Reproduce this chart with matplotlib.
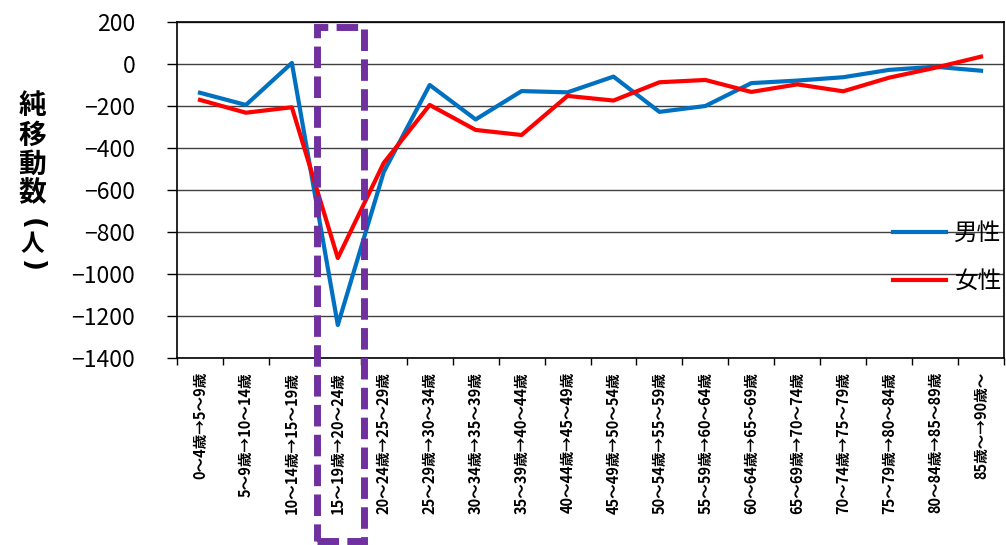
import matplotlib.pyplot as plt
from matplotlib.patches import Rectangle
import numpy as np

plt.rcParams['font.family'] = ['Noto Sans CJK JP', 'DejaVu Sans']

# age cohort transitions (5-year groups)
cohorts = [
    '0～4歳→5～9歳', '5～9歳→10～14歳', '10～14歳→15～19歳',
    '15～19歳→20～24歳', '20～24歳→25～29歳', '25～29歳→30～34歳',
    '30～34歳→35～39歳', '35～39歳→40～44歳', '40～44歳→45～49歳',
    '45～49歳→50～54歳', '50～54歳→55～59歳', '55～59歳→60～64歳',
    '60～64歳→65～69歳', '65～69歳→70～74歳', '70～74歳→75～79歳',
    '75～79歳→80～84歳', '80～84歳→85～89歳', '85歳～→90歳～',
]
male = [-137, -195, 5, -1243, -514, -100, -264, -129, -135,
        -60, -228, -200, -91, -79, -63, -28, -13, -32]
female = [-171, -232, -206, -924, -471, -195, -314, -338, -152,
          -174, -87, -76, -133, -97, -130, -65, -18, 35]
yticks = list(range(-1400, 201, 200))

W, H = 1006, 545
fig = plt.figure(figsize=(W / 100, H / 100), dpi=100)
ax = fig.add_axes([177 / W, 1 - 358 / H, 827 / W, 336 / H])

x = np.arange(len(cohorts))
ax.plot(x, male, color='#0070C0', lw=3, label='男性', zorder=3)
ax.plot(x, female, color='#FF0000', lw=3, label='女性', zorder=3)

ax.set_xlim(-0.5, len(cohorts) - 0.5)
ax.set_ylim(-1400, 200)
ax.set_yticks(yticks)
ax.set_yticklabels([str(v).replace('-', '\u2212') for v in yticks], fontsize=16.5)
ax.tick_params(axis='y', direction='out', length=7, width=1, pad=23)
ax.yaxis.grid(True, color='#404040', lw=1)
ax.set_axisbelow(True)

# labels at category centres, tick marks at category boundaries
ax.set_xticks(x)
ax.set_xticklabels(cohorts, rotation=90, fontsize=10.5, fontweight='bold',
                   va='top', ha='center')
ax.tick_params(axis='x', which='major', length=0, pad=10)
ax.set_xticks(np.arange(len(cohorts) + 1) - 0.5, minor=True)
ax.tick_params(axis='x', which='minor', direction='out', length=5, width=1)

for s in ax.spines.values():
    s.set_color('black')
    s.set_linewidth(1.2)

ax.legend(loc='upper right', bbox_to_anchor=(1.0, (358 - 220) / 336),
          fontsize=17, frameon=False, handlelength=2.25, handletextpad=0.35,
          labelspacing=1.05, borderpad=0, borderaxespad=0.1)

# vertical axis title, one character per row; brackets turned sideways
for ch, yy, fs in [('純', 106, 20), ('移', 136, 20), ('動', 165, 20),
                   ('数', 193, 20), ('人', 244, 17)]:
    fig.text(32 / W, 1 - yy / H, ch, fontsize=fs, fontweight='bold',
             ha='center', va='center')
for ch, yy in [('(', 224), (')', 266)]:
    fig.text(32 / W, 1 - yy / H, ch, fontsize=19, fontweight='bold',
             ha='center', va='center', rotation=-90, family='DejaVu Sans')

# highlight box around the 15～19歳→20～24歳 cohort
box = Rectangle((317 / W, 1 - 541 / H), 46.7 / W, 514 / H,
                transform=fig.transFigure, fill=False, edgecolor='#7030A0',
                lw=5, linestyle=(0, (3.1, 1.2)), clip_on=False, zorder=10)
fig.add_artist(box)

fig.savefig('out.png', dpi=100)
